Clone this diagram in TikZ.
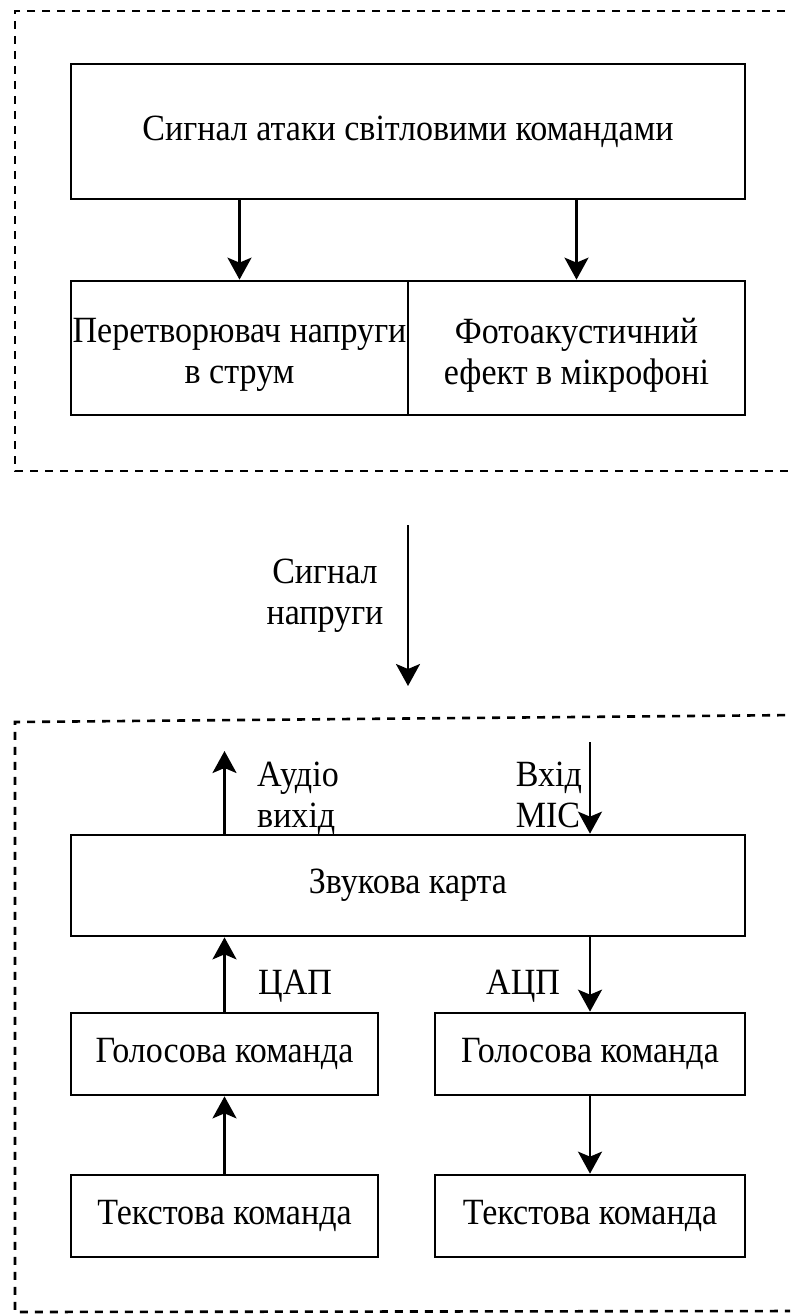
\documentclass[tikz,border=0pt]{standalone}
\usepackage{fontspec}
\setmainfont[FakeStretch=0.92]{Liberation Serif}
\usetikzlibrary{arrows.meta}
\begin{document}
\begin{tikzpicture}[x=1pt,y=-1pt,
  every node/.style={font=\fontsize{37}{41}\selectfont},
  block/.style={draw=black, line width=2.7pt, rectangle, inner sep=0pt, align=center},
  txt/.style={inner sep=0pt, align=center},
  arr/.style={line width=2.4pt, -{Stealth[length=22pt,width=24pt,inset=5pt]}},
  frame/.style={line width=2.6pt, dash pattern=on 8pt off 7pt},
  lbl/.style={inner sep=0pt, align=left, anchor=west}]
\useasboundingbox (0,0) rectangle (790,1316);
\clip (0,0) rectangle (790,1316);

% upper group
\draw[frame] (800,11) -- (15,11) -- (15,471) -- (800,471);
\node[block, minimum width=674pt, minimum height=135pt] (top) at (408,131.5) {Сигнал атаки світловими командами};
\node[block, minimum width=337pt, minimum height=134pt] (conv) at (239.5,348) {};
\node[block, minimum width=337pt, minimum height=134pt] (photo) at (576.5,348) {};
\node[txt] (convtext) at (239.5,355) {Перетворювач напруги\\в струм};
\node[txt] (phototext) at (576.5,355) {Фотоакустичний\\ефект в мікрофоні};
\draw[arr] (conv.north |- top.south) -- (conv.north);
\draw[arr] (photo.north |- top.south) -- (photo.north);

% voltage signal between the groups
\coordinate (sigA) at (408,525);
\coordinate (sigB) at (408,686);
\draw[arr] (sigA) -- (sigB);
\node[txt] (siglbl) at (325,596) {Сигнал\\напруги};

% lower group
\draw[frame] (800,715) -- (15,722) -- (15,1312) -- (800,1311);
\node[block, minimum width=674pt, minimum height=101pt] (card) at (408,885.5) {Звукова карта};
\node[block, minimum width=307pt, minimum height=82pt] (golL) at (224.5,1054) {Голосова команда};
\node[block, minimum width=310pt, minimum height=82pt] (golR) at (590,1054) {Голосова команда};
\node[block, minimum width=307pt, minimum height=82pt] (txtL) at (224.5,1216) {Текстова команда};
\node[block, minimum width=310pt, minimum height=82pt] (txtR) at (590,1216) {Текстова команда};

\coordinate (aout) at (224.5,751);
\coordinate (micin) at (590,742);
\draw[arr] (golL.north |- card.north) -- (aout);
\draw[arr] (micin) -- (golR.north |- card.north);
\draw[arr] (golL.north) -- (golL.north |- card.south);
\draw[arr] (golR.north |- card.south) -- (golR.north);
\draw[arr] (txtL.north) -- (golL.south);
\draw[arr] (golR.south) -- (txtR.north);

\node[lbl] (audlbl) at (257,798) {Аудіо\\вихід};
\node[lbl, anchor=east] (miclbl) at (582,795) {Вхід\\MIC};
\node[lbl] (daclbl) at (258,986) {ЦАП};
\node[lbl] (adclbl) at (486,986) {АЦП};
\end{tikzpicture}
\end{document}
